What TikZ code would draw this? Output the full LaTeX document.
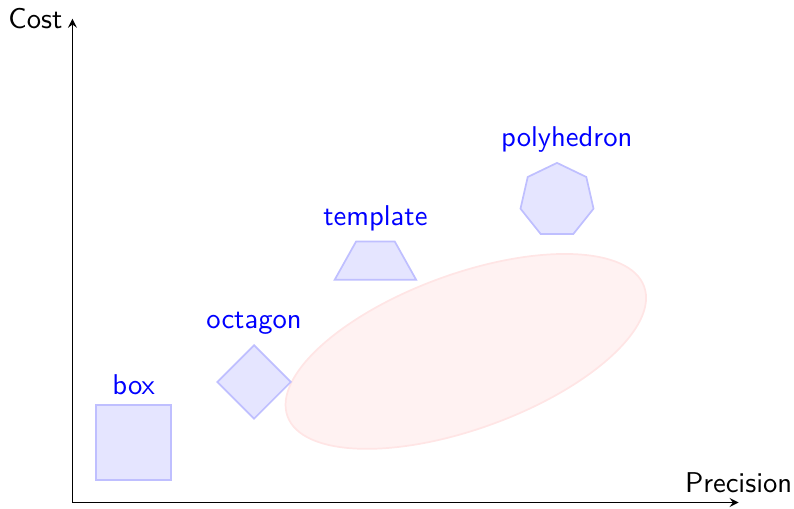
\documentclass[tikz,border=0pt]{standalone}
\usetikzlibrary{shapes.geometric}
\begin{document}
\begin{tikzpicture}[
        font=\sffamily,
        absdom/.style={draw=blue!25, fill=blue!10, semithick, inner sep=0pt},
        lbl/.style={text=blue, label distance=-0.2pt}]
    \useasboundingbox (-0.89,-0.08) rectangle (8.86,6.17);
    \draw[-stealth] (0,0) -- (8.18,0) node[above] {Precision};
    \draw[-stealth] (0,0) -- (0,5.94) node[left] {Cost};
    \filldraw[draw=red!10, fill=red!5, semithick, rotate around={20:(4.83,1.855)}]
        (4.83,1.855) ellipse (2.33 and 0.95);
    \node[absdom, rectangle, minimum size=0.92cm,
        label={[lbl]above:box}] (box) at (0.75,0.74) {};
    \node[absdom, diamond, minimum size=0.91cm,
        label={[lbl]above:octagon}] (octagon) at (2.23,1.48) {};
    \node[absdom, trapezium, trapezium angle=61, trapezium stretches=true, inner sep=1pt,
        minimum width=1cm, minimum height=0.47cm,
        label={[lbl]above:template}] (template) at (3.72,2.97) {};
    \node[absdom, regular polygon, regular polygon sides=7, minimum size=0.92cm,
        label={[lbl, xshift=1.2mm]above:polyhedron}] (polyhedron) at (5.95,3.71) {};
\end{tikzpicture}
\end{document}
